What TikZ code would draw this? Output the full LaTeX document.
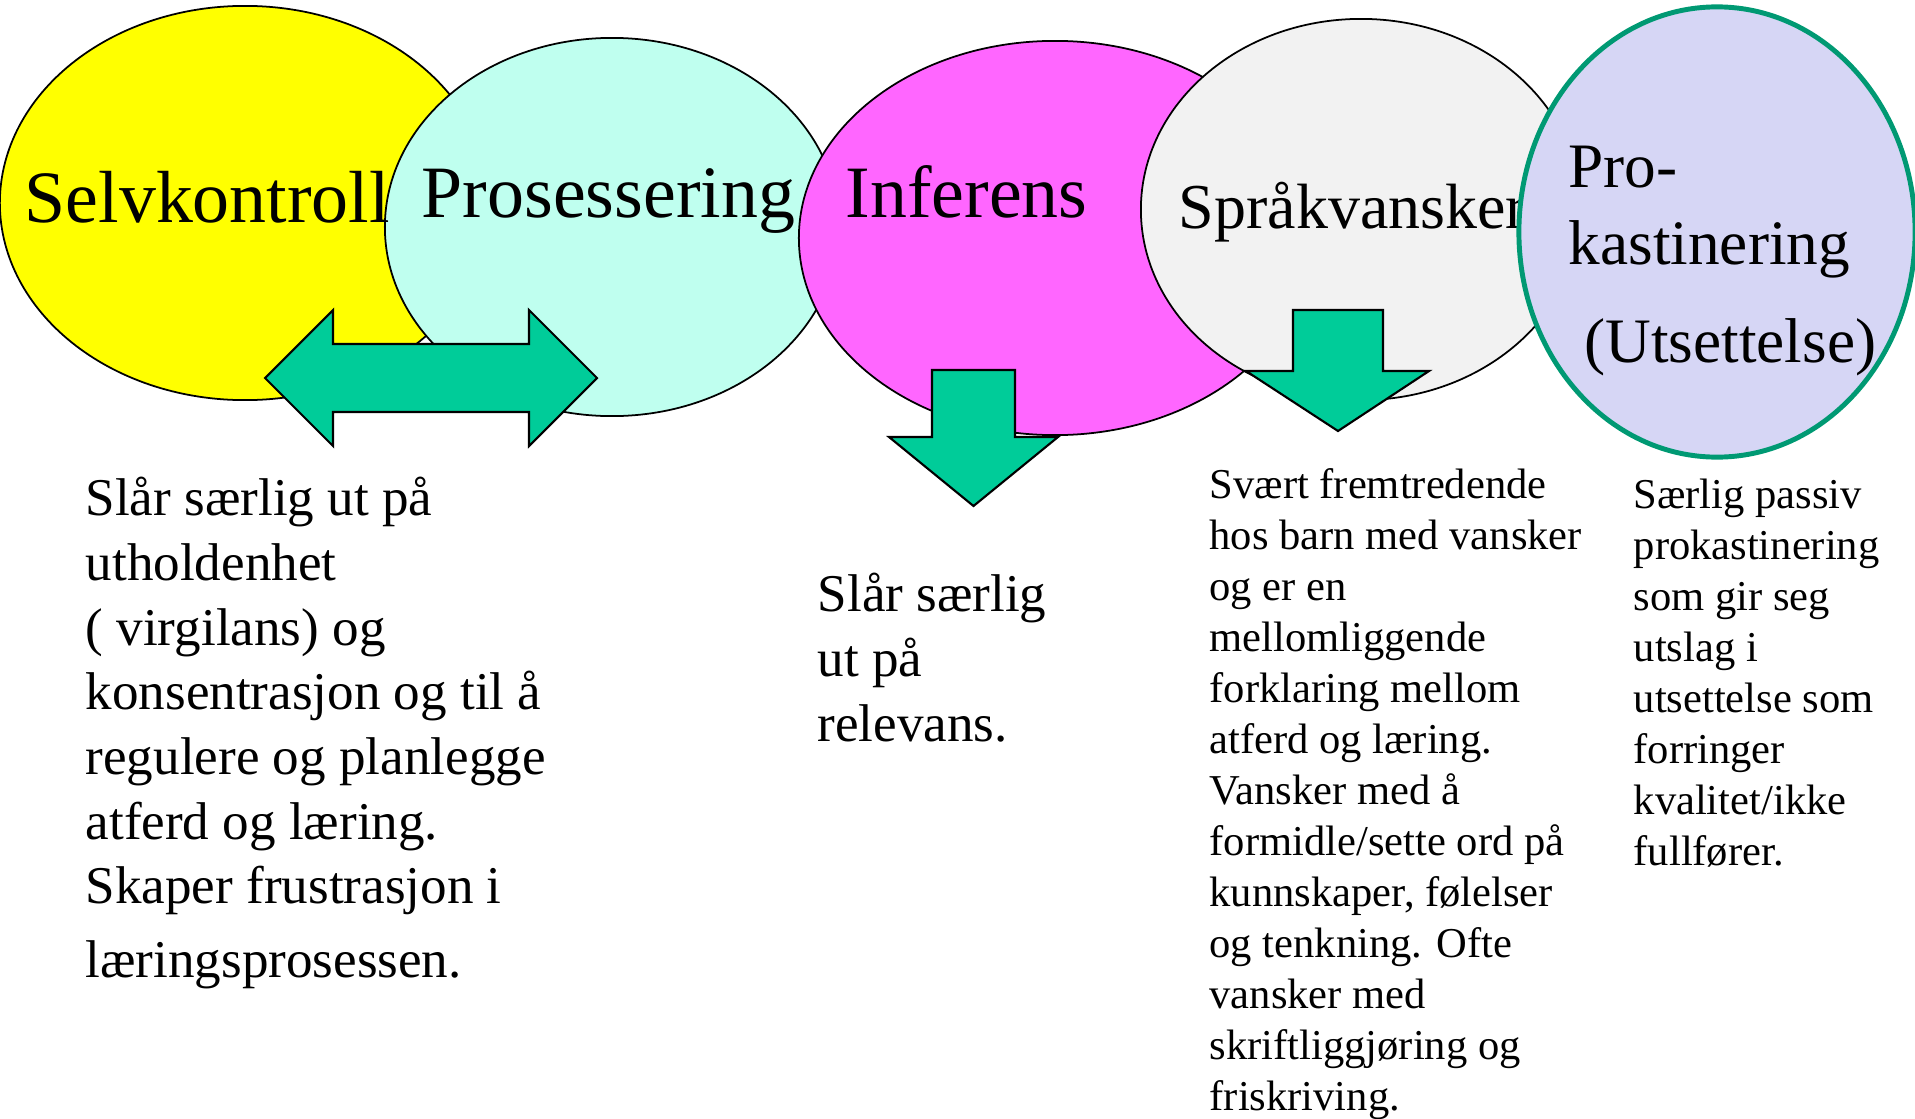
\documentclass[tikz,border=0pt]{standalone}
\usepackage{fontspec}
\setmainfont{Liberation Serif}
\usetikzlibrary{shapes.geometric}

\definecolor{selvyellow}{RGB}{255,255,0}
\definecolor{prosaqua}{RGB}{191,255,239}
\definecolor{infpink}{RGB}{255,102,255}
\definecolor{sprgray}{RGB}{242,242,242}
\definecolor{prolav}{RGB}{214,214,245}
\definecolor{proteal}{RGB}{0,153,115}
\definecolor{arrowgreen}{RGB}{0,204,153}

\begin{document}
\begin{tikzpicture}[
    x=0.01cm, y=-0.01cm,
    blob/.style={draw, ellipse, inner sep=0pt, line width=0.5pt},
    title/.style={anchor=base west, inner sep=0pt, font=\fontsize{21}{25}\selectfont},
    subtitle/.style={title, align=left, font=\fontsize{18.2}{21.9}\selectfont},
    body/.style={anchor=base west, inner sep=0pt, align=left,
      font=\fontsize{15.1}{18.4}\selectfont},
    note/.style={body, font=\fontsize{12.1}{14.5}\selectfont},
    blockarrow/.style={draw, fill=arrowgreen, line width=0.6pt}
  ]
    \useasboundingbox (0,0) rectangle (1915,1118);

    % the five ovals, each one over the one before
    \node[blob, fill=selvyellow, minimum width=4.9cm, minimum height=3.94cm] (selv) at (245,203) {};
    \node[blob, fill=prosaqua, minimum width=4.54cm, minimum height=3.78cm] (pros) at (612,227) {};
    \node[title] (selvtxt) at (24,222) {Selvkontroll};
    \node[title] (prostxt) at (421,217) {Prosessering};
    \node[blob, fill=infpink, minimum width=5.12cm, minimum height=3.94cm] (inf) at (1055,238) {};
    \node[title] (inftxt) at (845,217) {Inferens};
    \node[blob, fill=sprgray, minimum width=4.4cm, minimum height=3.81cm] (spr) at (1361,209.5) {};
    \node[subtitle] (sprtxt) at (1178,228) {Språkvansker};
    \node[blob, draw=proteal, line width=1.4pt, fill=prolav,
      minimum width=3.96cm, minimum height=4.5cm] (pro) at (1717,232) {};
    % base of a multi-line node is its last line
    \node[subtitle, font=\fontsize{18}{21.9}\selectfont] (protxt) at (1568,362)
      {Pro-\\kastinering\\[5.7pt]\hspace{0.25em}(Utsettelse)};

    % block arrows
    \draw[blockarrow] (265,378) -- (333,310) -- (333,344) -- (529,344) -- (529,310)
      -- (597,378) -- (529,446) -- (529,412) -- (333,412) -- (333,446) -- cycle;
    \draw[blockarrow] (932,370) -- (1015,370) -- (1015,437) -- (1058,437)
      -- (973.5,506) -- (889,437) -- (932,437) -- cycle;
    \draw[blockarrow] (1293,310) -- (1383,310) -- (1383,371) -- (1429,371)
      -- (1338,431) -- (1246,371) -- (1293,371) -- cycle;

    % explanations
    \node[body] (selvnote) at (85,977) {Slår særlig ut på\\utholdenhet\\( virgilans) og\\%
      konsentrasjon og til å\\regulere og planlegge\\atferd og læring.\\%
      Skaper frustrasjon i\\[2.4pt]læringsprosessen.};
    \node[body] (infnote) at (817,741) {Slår særlig\\ut på\\relevans.};
    \node[note] (sprnote) at (1209,1110) {Svært fremtredende\\hos barn med vansker\\og er en\\%
      mellomliggende\\forklaring mellom\\atferd og læring.\\Vansker med å\\%
      formidle/sette ord på\\kunnskaper, følelser\\og tenkning. Ofte\\vansker med\\%
      skriftliggjøring og\\friskriving.};
    \node[note] (pronote) at (1633,865) {Særlig passiv\\prokastinering\\som gir seg\\utslag i\\%
      utsettelse som\\forringer\\kvalitet/ikke\\fullfører.};
  \end{tikzpicture}
\end{document}
